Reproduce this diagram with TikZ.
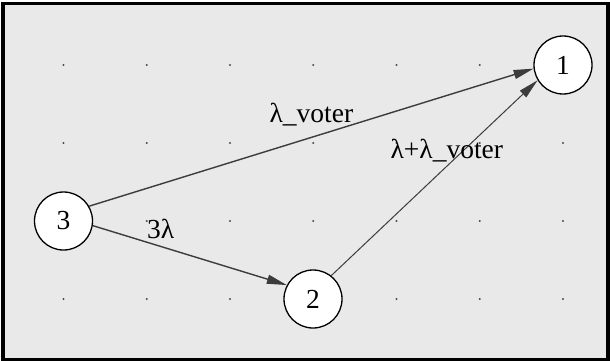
\documentclass[tikz,border=0pt]{standalone}
\usepackage{fontspec}
\setmainfont{Liberation Serif}
\usepackage{tikz}
\usetikzlibrary{arrows.meta}
\definecolor{panelgray}{RGB}{233,233,233}
\definecolor{edgegray}{RGB}{60,60,60}

\begin{document}
\begin{tikzpicture}[
  x=1pt, y=-1pt,
  font=\fontsize{27.5}{30}\selectfont,
  st/.style={draw, circle, line width=1.3pt, fill=white,
             minimum size=58pt, inner sep=0pt},
  ar/.style={-{Triangle[length=20pt, width=9pt]}, color=edgegray},
  rate/.style={anchor=base, inner sep=0pt, text=black}
]
\useasboundingbox (0,0) rectangle (610,361);
\draw[line width=3.5pt, fill=panelgray] (3.2,3.3) rectangle (608,359.3);
% grid dots
\foreach \i in {0,...,6}
  \foreach \j in {0,...,3}
    \fill[black!70] (63.5+83.25*\i, 65+78*\j) circle (1.1pt);
\node[st] (n1) at (563,65)  {1};
\node[st] (n2) at (313,299) {2};
\node[st] (n3) at (63.5,221) {3};
\draw[ar, line width=1.4pt] (n3.30) -- node[rate, pos=0.5, yshift=15pt] {λ\_voter} (n1.187);
\draw[ar, line width=1pt] (n2.52) -- node[rate, pos=0.56, yshift=8pt] {λ+λ\_voter} (n1.211);
\draw[ar, line width=1.4pt] (n3.351) -- node[rate, pos=0.35, yshift=8pt] {3λ} (n2.152);
\end{tikzpicture}
\end{document}
